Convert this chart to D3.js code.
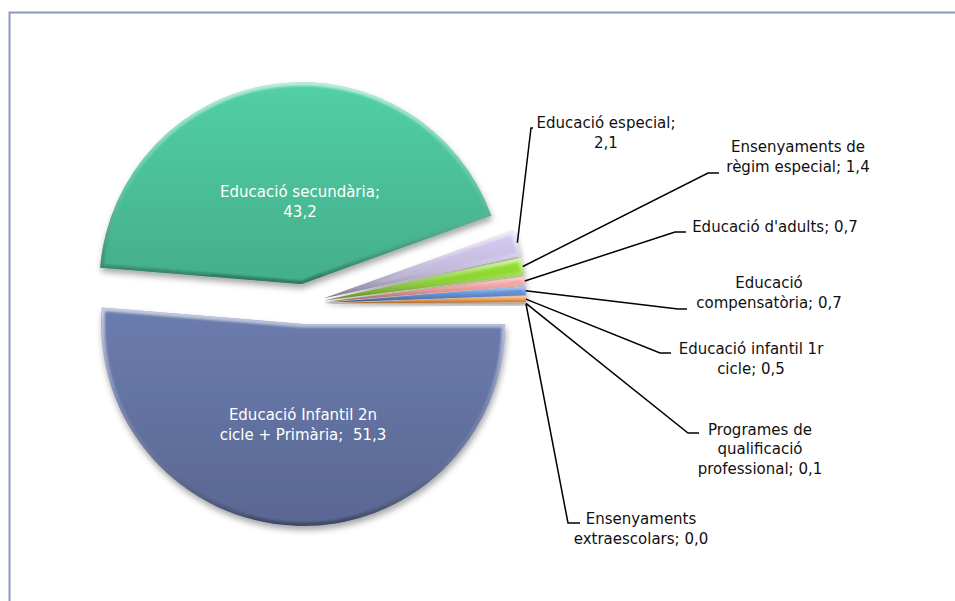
<!DOCTYPE html>
<html>
<head>
<meta charset="utf-8">
<script src="https://cdn.jsdelivr.net/npm/d3@7"></script>
<style>
  html, body { margin: 0; padding: 0; background: #fff; }
  svg { display: block; }
  text { font-family: "DejaVu Sans", sans-serif; font-size: 15px; }
</style>
</head>
<body>
<svg id="chart" width="955" height="601"></svg>
<script>
// data (percent)
var categories = [
  "Educació Infantil 2n cicle + Primària",
  "Educació secundària",
  "Educació especial",
  "Ensenyaments de règim especial",
  "Educació d'adults",
  "Educació compensatòria",
  "Educació infantil 1r cicle",
  "Programes de qualificació professional",
  "Ensenyaments extraescolars"
];
var values = [51.3, 43.2, 2.1, 1.4, 0.7, 0.7, 0.5, 0.1, 0.0];
var labelTexts = [
  "Educació Infantil 2n\ncicle + Primària;  {v}",
  "Educació secundària;\n{v}",
  "Educació especial;\n{v}",
  "Ensenyaments de\nrègim especial; {v}",
  "Educació d'adults; {v}",
  "Educació\ncompensatòria; {v}",
  "Educació infantil 1r\ncicle; {v}",
  "Programes de\nqualificació\nprofessional; {v}",
  "Ensenyaments\nextraescolars; {v}"
];

// styling / layout
var colors = ["#6473a2", "#4cc29a", "#c8bfe2", "#8dd531", "#e98c8c", "#4a7dcf", "#ef8a2b", "#a5a5a5", "#b0b0b0"];
var labelPos = [[303, 425], [300, 202], [606, 133], [798, 157], [775, 227], [769, 293], [751, 359], [760, 449], [641, 529]];
var leaderPos = [null, null, [531, 128, 533], [708, 173, 719], [675, 232, 686], [678, 309, 687], [660, 353, 671], [688, 433, 699], [568, 523, 580]];

var cx = 304, cy = 304, radius = 202, explode = 20, lineH = 19.5;

var svg = d3.select('#chart');
var defs = svg.append('defs');

// chart area border
svg.append('rect')
  .attr('x', 9.5).attr('y', 12.5)
  .attr('width', 980).attr('height', 620)
  .attr('fill', '#fff')
  .attr('stroke', '#8c99bf')
  .attr('stroke-width', 2);

var shadow = defs.append('filter').attr('id', 'shadow')
  .attr('x', '-20%').attr('y', '-20%').attr('width', '140%').attr('height', '150%');
shadow.append('feDropShadow')
  .attr('dx', 1).attr('dy', 4).attr('stdDeviation', 3)
  .attr('flood-color', '#000').attr('flood-opacity', 0.35);

var soft = defs.append('filter').attr('id', 'soft');
soft.append('feGaussianBlur').attr('stdDeviation', 1.2);

var rim = defs.append('linearGradient').attr('id', 'rim')
  .attr('x1', 0).attr('y1', 0).attr('x2', 0).attr('y2', 1);
rim.append('stop').attr('offset', '0%').attr('stop-color', '#fff').attr('stop-opacity', 0.6);
rim.append('stop').attr('offset', '45%').attr('stop-color', '#fff').attr('stop-opacity', 0.15);
rim.append('stop').attr('offset', '100%').attr('stop-color', '#000').attr('stop-opacity', 0.3);

colors.forEach(function (c, i) {
  var g = defs.append('linearGradient').attr('id', 'fill' + i)
    .attr('x1', 0).attr('y1', 0).attr('x2', 0).attr('y2', 1);
  g.append('stop').attr('offset', '0%').attr('stop-color', d3.color(c).brighter(0.2));
  g.append('stop').attr('offset', '100%').attr('stop-color', d3.color(c).darker(0.3));
});

var pie = d3.pie().sort(null).value(function (d) { return d; })
  .startAngle(Math.PI / 2).endAngle(Math.PI / 2 + 2 * Math.PI);
var arc = d3.arc().innerRadius(0).outerRadius(radius);
var arcs = pie(values);

function offsetOf(a) {
  var mid = (a.startAngle + a.endAngle) / 2;
  return [explode * Math.sin(mid), -explode * Math.cos(mid)];
}

var pieG = svg.append('g').attr('transform', 'translate(' + cx + ',' + cy + ')');

arcs.forEach(function (a, i) {
  if (a.value <= 0) return;
  var off = offsetOf(a);
  var d = arc(a);
  defs.append('clipPath').attr('id', 'clip' + i).append('path').attr('d', d);
  var g = pieG.append('g').attr('transform', 'translate(' + off[0] + ',' + off[1] + ')');
  g.append('path')
    .attr('d', d)
    .attr('fill', 'url(#fill' + i + ')')
    .attr('filter', 'url(#shadow)');
  g.append('path')
    .attr('d', d)
    .attr('fill', 'none')
    .attr('stroke', 'url(#rim)')
    .attr('stroke-width', 7)
    .attr('stroke-linejoin', 'round')
    .attr('clip-path', 'url(#clip' + i + ')')
    .attr('filter', 'url(#soft)');
});

// leader lines
arcs.forEach(function (a, i) {
  var lp = leaderPos[i];
  if (!lp) return;
  var off = offsetOf(a);
  var mid = (a.startAngle + a.endAngle) / 2;
  var sx = cx + off[0] + radius * Math.sin(mid);
  var sy = cy + off[1] - radius * Math.cos(mid);
  svg.append('path')
    .attr('d', d3.line()([[sx, sy], [lp[0], lp[1]], [lp[2], lp[1]]]))
    .attr('fill', 'none')
    .attr('stroke', '#000')
    .attr('stroke-width', 1.5);
});

// labels
var fmt = function (v) { return d3.format('.1f')(v).replace('.', ','); };
arcs.forEach(function (a, i) {
  var lines = labelTexts[i].replace('{v}', fmt(values[i])).split('\n');
  var pos = labelPos[i];
  var y0 = pos[1] - (lines.length - 1) * lineH / 2;
  var t = svg.append('text')
    .attr('text-anchor', 'middle')
    .attr('fill', i < 2 ? '#fff' : '#111');
  lines.forEach(function (ln, k) {
    t.append('tspan')
      .attr('x', pos[0])
      .attr('y', y0 + k * lineH)
      .attr('dominant-baseline', 'central')
      .style('white-space', 'pre')
      .text(ln);
  });
});
</script>
</body>
</html>
